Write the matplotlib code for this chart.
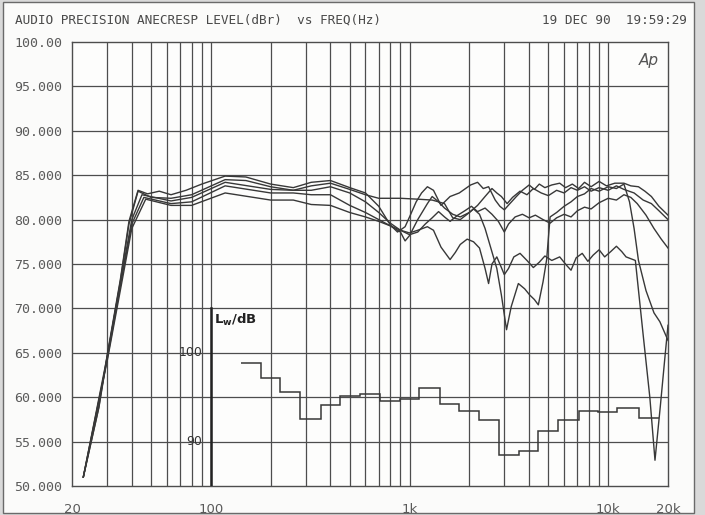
import matplotlib
matplotlib.use('Agg')
import matplotlib.pyplot as plt
import numpy as np
from matplotlib.patches import Rectangle

# response curves, level in dBr vs frequency in Hz
freq_1 = [22.8, 27.3, 30.2, 35, 38.7, 43, 48, 55, 63, 75, 90, 118, 150, 200,
          260, 320, 400, 500, 600, 700, 800, 870, 950, 1000, 1080, 1150, 1230,
          1320, 1440, 1600, 1780, 2030, 2200, 2350, 2500, 2700, 2850, 3000,
          3200, 3450, 3700, 4000, 4250, 4500, 4800, 5200, 5700, 6100, 6600,
          7100, 7600, 8200, 9000, 9800, 10800, 12000, 13000, 14200, 15300,
          16500, 18000, 20000]
level_1 = [51, 58.9, 65, 73.2, 79.8, 83.3, 82.9, 83.2, 82.8, 83.3, 84, 84.9,
           84.8, 84, 83.6, 84.2, 84.4, 83.6, 83.0, 81.5, 79.4, 78.6, 79.2,
           80.3, 82.0, 83.0, 83.7, 83.3, 81.6, 82.6, 83.0, 83.9, 84.2, 83.5,
           83.7, 82.2, 81.5, 81.1, 81.8, 82.6, 83.3, 83.9, 83.4, 84.0, 83.6,
           83.9, 84.1, 83.6, 84.0, 83.5, 84.2, 83.7, 84.3, 83.8, 84.1, 84.1,
           83.8, 83.7, 83.2, 82.6, 81.5, 80.5]

freq_2 = [22.8, 27.3, 30.2, 35, 38.7, 43, 50, 63, 80, 118, 150, 200, 260,
          320, 400, 500, 600, 700, 900, 1100, 1300, 1400, 1500, 1650, 1800,
          2000, 2200, 2400, 2600, 2750, 2900, 3100, 3300, 3600, 3900, 4200,
          4600, 5000, 5500, 6000, 6500, 7000, 7600, 8200, 9000, 10000, 11000,
          12000, 13500, 15000, 16500, 18000, 20000]
level_2 = [51, 58.8, 64.8, 73, 79.5, 83.2, 82.5, 82.4, 82.8, 84.5, 84.4, 83.7,
           83.3, 83.8, 84.1, 83.4, 82.8, 82.4, 82.4, 82.3, 82.2, 82.0, 81.3,
           80.6, 80.3, 80.8, 81.6, 82.6, 83.5, 83.0, 82.6, 81.8, 82.5, 83.2,
           82.8, 83.5, 83.0, 82.7, 83.3, 83.0, 83.6, 83.3, 83.7, 83.2, 83.6,
           83.3, 83.8, 83.4, 83.0, 82.2, 81.8, 81.0, 80.0]

freq_3 = [22.8, 30.2, 35, 40, 45, 63, 80, 118, 200, 260, 320, 400, 500, 600,
          700, 800, 900, 1000, 1100, 1200, 1300, 1400, 1500, 1600, 1750, 1900,
          2050, 2200, 2400, 2600, 2800, 3000, 3150, 3400, 3700, 4000, 4300,
          4700, 5100, 5500, 6000, 6500, 7000, 7600, 8200, 9000, 10000, 11000,
          12000, 13000, 14000, 15500, 17000, 18500, 20000]
level_3 = [51, 64.8, 72.8, 80, 82.8, 82.1, 82.5, 84.2, 83.4, 83.3, 83.3,
           83.7, 83.0, 82.0, 80.8, 79.6, 78.8, 78.3, 78.6, 79.5, 80.2, 80.9,
           80.3, 79.8, 80.5, 81.0, 81.5, 80.9, 81.3, 80.6, 79.8, 78.6, 79.5,
           80.3, 80.6, 80.2, 80.5, 80.0, 79.6, 80.2, 80.6, 80.3, 81.0, 81.4,
           81.2, 81.9, 82.4, 82.2, 82.8, 82.5, 81.8, 80.5, 79.0, 77.8, 76.8]

freq_4 = [22.8, 30.2, 35, 40, 46, 63, 80, 118, 200, 260, 320, 400, 500, 600,
          700, 800, 900, 1000, 1100, 1230, 1320, 1440, 1600, 1700, 1800, 1950,
          2100, 2250, 2400, 2500, 2600, 2750, 2900, 3000, 3150, 3350, 3600,
          3900, 4200, 4500, 4800, 5200, 5700, 6200, 6500, 6900, 7400, 7900,
          8400, 9000, 9600, 10300, 11000, 11700, 12300, 13700, 15000, 16200,
          17200, 18300, 19300, 20000]
level_4 = [51, 64.5, 72.5, 79.5, 82.5, 81.8, 82, 83.8, 83, 83, 82.8, 82.8,
           81.6, 80.8, 80.0, 79.3, 78.8, 78.5, 78.8, 79.2, 78.8, 76.9, 75.5,
           76.3, 77.2, 77.8, 77.5, 76.8, 74.5, 72.8, 75.0, 75.8, 74.6, 73.8,
           74.5, 75.8, 76.2, 75.4, 74.6, 75.2, 75.9, 75.4, 75.8, 74.8, 74.3,
           75.7, 76.2, 75.3, 76.0, 76.6, 75.8, 76.4, 77.0, 76.4, 75.8, 75.4,
           67.0, 60.0, 52.9, 59.0, 64.5, 68.1]

freq_5 = [22.8, 30.2, 35, 40, 47, 63, 80, 118, 200, 260, 320, 400, 500, 600,
          700, 800, 900, 950, 1000, 1100, 1230, 1300, 1400, 1500, 1650, 1800,
          1950, 2100, 2250, 2400, 2550, 2750, 2900, 3078, 3250, 3530, 3800,
          4030, 4250, 4450, 4700, 4900, 5100, 5500, 6000, 6500, 7000, 7600,
          8200, 9000, 10000, 11000, 12000, 12800, 13500, 14200, 15500, 17000,
          18200, 20000]
level_5 = [51, 64.3, 72, 79, 82.3, 81.6, 81.6, 83, 82.2, 82.2, 81.7, 81.6,
           80.8, 80.3, 79.8, 79.3, 78.6, 77.6, 78.2, 80.0, 81.8, 82.6, 82.0,
           81.8, 80.2, 80.0, 80.6, 81.2, 80.6, 79.0, 77.0, 74.5, 71.5, 67.6,
           70.2, 72.8, 72.2, 71.5, 71.0, 70.4, 73.0, 75.5, 80.3, 80.8, 81.5,
           82.0, 82.6, 82.9, 83.5, 83.2, 83.7, 83.5, 84.0, 82.0, 79.0, 75.4,
           72.0, 69.5, 68.5, 66.4]

# third-octave sound power levels (Lw, dB)
band_centres = [160, 200, 250, 315, 400, 500, 630, 800, 1000, 1250, 1600,
                2000, 2500, 3150, 4000, 5000, 6300, 8000, 10000, 12500, 16000]
lw_levels = [98.9, 97.2, 95.6, 92.5, 94.1, 95.1, 95.4, 94.6, 94.8, 96.0,
             94.2, 93.4, 92.4, 88.5, 88.9, 91.2, 92.4, 93.4, 93.3, 93.8, 92.7]
lw_offset = 35.0  # Lw = dBr + 35 on this sheet
lw_ticks = [100, 90]

y_ticks = [50, 55, 60, 65, 70, 75, 80, 85, 90, 95, 100]
y_labels = ['50.000', '55.000', '60.000', '65.000', '70.000', '75.000',
            '80.000', '85.000', '90.000', '95.000', '100.00']
x_ticks = [20, 100, 1000, 10000, 20000]
x_labels = ['20', '100', '1k', '10k', '20k']

ink = '#383838'
grey_text = '#5a5a5a'
mono = ['DejaVu Sans Mono']

fig = plt.figure(figsize=(7.05, 5.15), dpi=100, facecolor='#d9d9d9')
fig.patches.append(Rectangle((0.004, 0.004), 0.98, 0.992,
                             transform=fig.transFigure, facecolor='#fbfbfa',
                             edgecolor='#6a6a6a', lw=1.0, zorder=-10))
ax = fig.add_axes([72 / 705, 1 - 486 / 515, 596 / 705, 444 / 515])
ax.set_facecolor('#fdfdfc')
ax.set_xscale('log')
ax.set_xlim(20, 20000)
ax.set_ylim(50, 100)

# plotter grid
for decade in [10, 100, 1000, 10000]:
    for m in range(1, 10):
        f = m * decade
        if 20 < f < 20000:
            ax.axvline(f, color='#4d4d4d', lw=0.9, zorder=1)
for y in y_ticks[1:-1]:
    ax.axhline(y, color='#4d4d4d', lw=0.9, zorder=1)

for fr, lv in [(freq_1, level_1), (freq_2, level_2), (freq_3, level_3),
               (freq_4, level_4), (freq_5, level_5)]:
    ax.plot(fr, lv, color=ink, lw=1.0, zorder=3)

# Lw step curve
centres = np.array(band_centres, dtype=float)
edges = np.append(centres * 2 ** (-1 / 6), centres[-1] * 2 ** (1 / 6))
ax.stairs(np.array(lw_levels) - lw_offset, edges, color=ink, lw=1.1,
          baseline=None, zorder=3)
ax.plot([100, 100], [50, 70], color='#222222', lw=1.8, zorder=4)
for t in lw_ticks:
    ax.annotate(str(t), (100, t - lw_offset), xytext=(-6, 0),
                textcoords='offset points', ha='right', va='center',
                fontsize=9, color='#333333', family='DejaVu Sans')
ax.annotate(r'L$_\mathregular{w}$/dB', (100, 68.7), xytext=(2, 0),
            textcoords='offset points', ha='left', va='center',
            fontsize=9.5, fontweight='bold', color='#222222')

ax.set_yticks(y_ticks)
ax.set_yticklabels(y_labels, family=mono, fontsize=9.5, color=grey_text)
ax.set_xticks(x_ticks)
ax.set_xticklabels(x_labels, family='DejaVu Sans', fontsize=9.5,
                   color=grey_text)
ax.minorticks_off()
ax.tick_params(axis='both', length=0)
ax.tick_params(axis='y', pad=7)
ax.tick_params(axis='x', pad=12)
for s in ax.spines.values():
    s.set_color('#4d4d4d')
    s.set_linewidth(1.0)

ax.text(0.985, 0.975, 'Ap', transform=ax.transAxes, ha='right', va='top',
        fontsize=11, style='italic', color='#555555')
fig.text(15 / 705, 1 - 20 / 515, 'AUDIO PRECISION ANECRESP LEVEL(dBr)  vs FREQ(Hz)',
         family=mono, fontsize=9.2, color='#4a4a4a', va='center', ha='left')
fig.text(687 / 705, 1 - 20 / 515, '19 DEC 90  19:59:29', family=mono,
         fontsize=9.2, color='#4a4a4a', va='center', ha='right')

fig.savefig('out.png', dpi=100, facecolor=fig.get_facecolor())
